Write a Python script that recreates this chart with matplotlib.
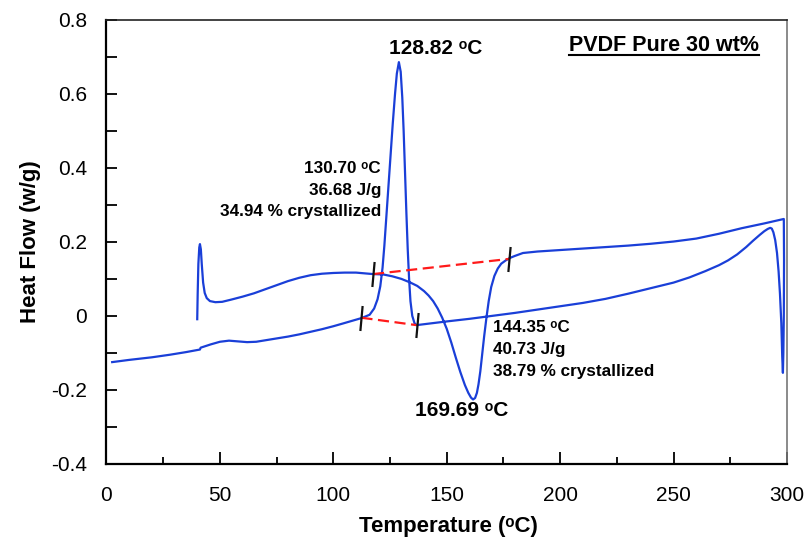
import matplotlib
matplotlib.use("Agg")
import matplotlib.pyplot as plt
from matplotlib.path import Path
from matplotlib.lines import Line2D
from matplotlib.ticker import MultipleLocator

plt.rcParams['font.family'] = ['Liberation Sans', 'DejaVu Sans']

# DSC trace: heating 40 -> 300 C, then cooling 300 -> 0 C
temperature = [
    40.0, 40.2, 40.5, 40.9, 41.2, 41.6, 42.0, 42.6, 43.3, 44.2, 45.6, 48.0, 51.0, 55.0,
    60.0, 65.0, 70.0, 75.0, 80.0, 85.0, 90.0, 95.0, 100.0, 105.0, 110.0, 114.0, 117.5,
    122.0, 126.0, 130.0, 134.0, 137.0, 140.0, 142.0, 144.0, 146.0, 148.0, 150.0, 152.0,
    154.0, 156.0, 158.0, 159.5, 160.7, 161.6, 162.5, 163.3, 164.0, 164.8, 165.6, 166.5,
    167.5, 168.5, 169.6, 171.0, 172.5, 174.0, 176.0, 178.0, 180.0, 183.6, 190.0, 200.0,
    210.0, 220.0, 230.0, 240.0, 250.0, 260.0, 270.0, 280.0, 290.0, 298.6,
    298.7, 298.6, 298.4, 298.2, 297.9, 297.5, 296.9, 296.3, 295.6, 294.8, 294.0, 293.3,
    292.6, 291.5, 290.0, 288.0, 285.0, 282.0, 278.0, 274.0, 270.0, 264.0, 257.0, 250.0,
    240.0, 230.0, 220.0, 210.0, 200.0, 190.0, 180.0, 170.0, 160.0, 150.0, 142.0, 136.7,
    135.8, 134.8, 134.0, 133.4, 132.8, 132.2, 131.6, 131.0, 130.4, 129.7, 128.9, 128.0,
    127.2, 126.2, 125.2, 124.2, 123.3, 122.5, 121.7, 120.7, 119.5, 118.0, 116.0, 112.4,
    108.0, 104.0, 100.0, 95.0, 90.0, 85.0, 80.0, 75.0, 70.0, 66.0, 62.0, 58.0, 54.0,
    50.0, 46.0, 43.0, 41.5, 41.2, 35.0, 28.0, 20.0, 10.0, 2.5,
]
heat_flow = [
    -0.009, 0.06, 0.14, 0.185, 0.194, 0.18, 0.14, 0.09, 0.062, 0.048, 0.040, 0.037, 0.038, 0.044,
    0.052, 0.061, 0.072, 0.083, 0.094, 0.103, 0.110, 0.114, 0.116, 0.117, 0.117, 0.115, 0.113,
    0.112, 0.107, 0.100, 0.090, 0.081, 0.067, 0.055, 0.040, 0.020, -0.005, -0.035, -0.072,
    -0.113, -0.152, -0.187, -0.208, -0.221, -0.226, -0.222, -0.208, -0.185, -0.150, -0.105, -0.055,
    -0.005, 0.040, 0.078, 0.108, 0.128, 0.141, 0.150, 0.157, 0.162, 0.170, 0.174, 0.178,
    0.182, 0.186, 0.190, 0.195, 0.201, 0.209, 0.222, 0.237, 0.250, 0.262,
    0.15, 0.0, -0.10, -0.154, -0.11, -0.02, 0.06, 0.12, 0.17, 0.205, 0.226, 0.236,
    0.238, 0.235, 0.229, 0.219, 0.203, 0.186, 0.166, 0.150, 0.137, 0.121, 0.104, 0.090,
    0.075, 0.060, 0.046, 0.035, 0.026, 0.017, 0.008, 0.0, -0.008, -0.015, -0.021, -0.025,
    -0.020, 0.0, 0.04, 0.10, 0.18, 0.28, 0.39, 0.50, 0.59, 0.66, 0.686, 0.655,
    0.60, 0.52, 0.43, 0.34, 0.26, 0.19, 0.13, 0.08, 0.045, 0.02, 0.003, -0.006,
    -0.014, -0.021, -0.028, -0.036, -0.043, -0.050, -0.056, -0.061, -0.066, -0.070, -0.071, -0.069, -0.067,
    -0.070, -0.077, -0.083, -0.086, -0.091, -0.098, -0.105, -0.112, -0.119, -0.125,
]

# integration baselines (red dashed) with their end markers
melt_base_t = [117.5, 177.5]
melt_base_h = [0.113, 0.154]
cryst_base_t = [112.4, 136.7]
cryst_base_h = [-0.005, -0.025]

deg = "\u1d52C"
title_text = "PVDF Pure 30 wt%"
peak_labels = ["128.82 " + deg, "169.69 " + deg]
peak_pos = [(145.0, 0.724), (156.5, -0.257)]
cryst_lines = ["130.70 " + deg, "36.68 J/g", "34.94 % crystallized"]
cryst_y = [0.3875, 0.327, 0.269]
melt_lines = ["144.35 " + deg, "40.73 J/g", "38.79 % crystallized"]
melt_y = [-0.0434, -0.103, -0.163]

x_ticks = [0, 50, 100, 150, 200, 250, 300]
y_ticks = [-0.4, -0.2, 0, 0.2, 0.4, 0.6, 0.8]
y_tick_labels = ["-0.4", "-0.2", "0", "0.2", "0.4", "0.6", "0.8"]

fig = plt.figure(figsize=(8.08, 5.46), dpi=100)
ax = fig.add_axes([0.1318, 0.1505, 0.8422, 0.8129])

ax.plot(temperature, heat_flow, color='#1a3fd8', lw=1.6, zorder=3)
ax.plot(melt_base_t, melt_base_h, color='#ff1a1a', lw=1.6, ls=(0, (5, 2.5)), zorder=4)
ax.plot(cryst_base_t, cryst_base_h, color='#ff1a1a', lw=1.6, ls=(0, (5, 2.5)), zorder=4)

tick_marker = Path([(-0.09, -1.0), (0.09, 1.0)], [Path.MOVETO, Path.LINETO])
for ts, hs in ((melt_base_t, melt_base_h), (cryst_base_t, cryst_base_h)):
    ax.plot(ts, hs, ls='none', marker=tick_marker, markersize=18,
            markeredgecolor='#111111', markeredgewidth=1.6, zorder=5)

ax.set_xlim(0, 300)
ax.set_ylim(-0.4, 0.8)
ax.set_xticks(x_ticks)
ax.set_xticklabels([str(v) for v in x_ticks])
ax.set_yticks(y_ticks)
ax.set_yticklabels(y_tick_labels)
ax.xaxis.set_minor_locator(MultipleLocator(25))
ax.yaxis.set_minor_locator(MultipleLocator(0.1))
ax.tick_params(axis='both', which='both', direction='in', width=1.3, colors='black',
               labelsize=15, top=False, right=False)
ax.tick_params(axis='x', which='major', length=9, pad=16)
ax.tick_params(axis='x', which='minor', length=5)
ax.tick_params(axis='y', which='both', length=8, pad=14)

for s in ['left', 'bottom']:
    ax.spines[s].set_linewidth(1.6)
    ax.spines[s].set_color('black')
ax.spines['top'].set_linewidth(1.2)
ax.spines['top'].set_color('#222222')
ax.spines['right'].set_linewidth(1.2)
ax.spines['right'].set_color('#777777')

ax.set_xlabel("Temperature (" + deg + ")", fontsize=16, fontweight='bold')
ax.set_ylabel("Heat Flow (w/g)", fontsize=16, fontweight='bold')
ax.xaxis.set_label_coords(0.503, -0.118)
ax.yaxis.set_label_coords(-0.0965, 0.5)

for lab, (tx, ty) in zip(peak_labels, peak_pos):
    ax.text(tx, ty, lab, fontsize=15, fontweight='bold', ha='center', va='center')
for lab, yy in zip(cryst_lines, cryst_y):
    ax.text(121.0, yy, lab, fontsize=12.3, fontweight='bold', ha='right', va='baseline')
for lab, yy in zip(melt_lines, melt_y):
    ax.text(170.4, yy, lab, fontsize=12.3, fontweight='bold', ha='left', va='baseline')

ttl = ax.text(0.819, 0.930, title_text, transform=ax.transAxes, fontsize=15.5,
              fontweight='bold', ha='center', va='baseline')

fig.canvas.draw()
bb = ttl.get_window_extent()
uy = bb.y0 + 1.0
fig.add_artist(Line2D([bb.x0 / fig.bbox.width, bb.x1 / fig.bbox.width],
                      [uy / fig.bbox.height, uy / fig.bbox.height],
                      transform=fig.transFigure, color='black', lw=1.5))

fig.savefig("out.png", dpi=100)
